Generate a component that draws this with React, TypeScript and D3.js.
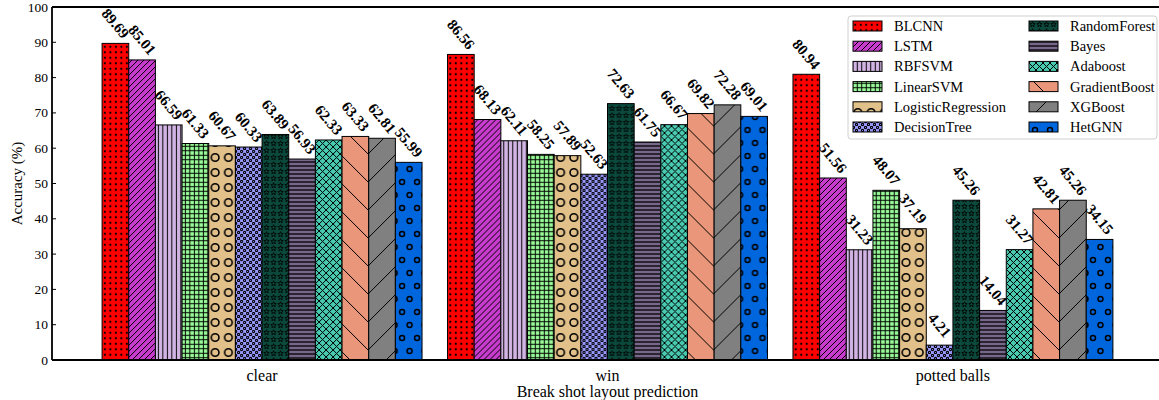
import { useRef, useEffect } from "react";
import * as d3 from "d3";

const groups = ["clear", "win", "potted balls"];
const models = [
  "BLCNN",
  "LSTM",
  "RBFSVM",
  "LinearSVM",
  "LogisticRegression",
  "DecisionTree",
  "RandomForest",
  "Bayes",
  "Adaboost",
  "GradientBoost",
  "XGBoost",
  "HetGNN",
];
const clearValues = [89.69, 85.01, 66.59, 61.33, 60.67, 60.33, 63.89, 56.93, 62.33, 63.33, 62.81, 55.99];
const winValues = [86.56, 68.13, 62.11, 58.25, 57.89, 52.63, 72.63, 61.75, 66.67, 69.82, 72.28, 69.01];
const pottedValues = [80.94, 51.56, 31.23, 48.07, 37.19, 4.21, 45.26, 14.04, 31.27, 42.81, 45.26, 34.15];
const yTicks = [0, 10, 20, 30, 40, 50, 60, 70, 80, 90, 100];

const colors = [
  "#ff0000",
  "#c83ccd",
  "#d3b5e5",
  "#98fb98",
  "#e2c08a",
  "#9999ff",
  "#0b4a3c",
  "#77688b",
  "#48c9b0",
  "#e9967a",
  "#808080",
  "#0066dd",
];
const hatches = ["dots", "diag", "vline", "grid", "bigO", "smallo", "star", "hline", "cross", "back", "fwd", "ring"];

const FONT = "'Liberation Serif', 'Times New Roman', serif";

function starPath(cx: number, cy: number, ro: number, ri: number) {
  const pts: string[] = [];
  for (let i = 0; i < 10; i++) {
    const r = i % 2 === 0 ? ro : ri;
    const a = -Math.PI / 2 + (i * Math.PI) / 5;
    pts.push(`${cx + r * Math.cos(a)},${cy + r * Math.sin(a)}`);
  }
  return "M" + pts.join("L") + "Z";
}

function addPattern(defs: any, id: string, color: string, kind: string) {
  const sizes: Record<string, [number, number]> = {
    dots: [5.5, 5.5],
    diag: [6, 6],
    vline: [4.5, 10],
    grid: [4.5, 4.5],
    bigO: [13.3, 15],
    smallo: [6, 6],
    star: [7, 7],
    hline: [10, 4],
    cross: [7, 7],
    back: [28, 28],
    fwd: [28, 28],
    ring: [15, 26],
  };
  const [w, h] = sizes[kind];
  const p = defs
    .append("pattern")
    .attr("id", id)
    .attr("patternUnits", "userSpaceOnUse")
    .attr("width", w)
    .attr("height", h);
  p.append("rect").attr("width", w).attr("height", h).attr("fill", color);
  const line = (x1: number, y1: number, x2: number, y2: number, sw = 1) =>
    p
      .append("line")
      .attr("x1", x1)
      .attr("y1", y1)
      .attr("x2", x2)
      .attr("y2", y2)
      .attr("stroke", "#000")
      .attr("stroke-width", sw);
  const ring = (cx: number, cy: number, r: number, sw: number) =>
    p
      .append("circle")
      .attr("cx", cx)
      .attr("cy", cy)
      .attr("r", r)
      .attr("fill", "none")
      .attr("stroke", "#000")
      .attr("stroke-width", sw);

  switch (kind) {
    case "dots":
      p.append("circle").attr("cx", w / 2).attr("cy", h / 2).attr("r", 1.1).attr("fill", "#000");
      break;
    case "diag":
      line(0, h, w, 0);
      line(-1, 1, 1, -1);
      line(w - 1, h + 1, w + 1, h - 1);
      break;
    case "vline":
      line(w / 2, 0, w / 2, h);
      break;
    case "grid":
      line(w / 2, 0, w / 2, h);
      line(0, h / 2, w, h / 2);
      break;
    case "bigO":
      ring(w / 2, h / 2, 3.8, 1.6);
      break;
    case "smallo":
      ring(1.5, 1.5, 1.1, 1.1);
      ring(4.5, 4.5, 1.1, 1.1);
      break;
    case "star":
      p.append("path")
        .attr("d", starPath(w / 2, h / 2, 2.8, 1.2))
        .attr("fill", "none")
        .attr("stroke", "#000")
        .attr("stroke-width", 0.9);
      break;
    case "hline":
      line(0, h / 2, w, h / 2, 1.3);
      break;
    case "cross":
      line(0, 0, w, h);
      line(0, h, w, 0);
      break;
    case "back":
      line(0, 0, w, h);
      line(-1, h - 1, 1, h + 1);
      line(w - 1, -1, w + 1, 1);
      break;
    case "fwd":
      line(0, h, w, 0);
      line(-1, 1, 1, -1);
      line(w - 1, h + 1, w + 1, h - 1);
      break;
    case "ring":
      ring(0, 0, 2.5, 1.5);
      ring(w, 0, 2.5, 1.5);
      ring(0, h, 2.5, 1.5);
      ring(w, h, 2.5, 1.5);
      ring(w / 2, h / 2, 2.5, 1.5);
      break;
  }
}

export default function App() {
  const svgRef = useRef<SVGSVGElement | null>(null);

  useEffect(() => {
    document.body.style.margin = "0";
    const svg = d3.select(svgRef.current);
    svg.selectAll("*").remove();

    const width = 1159;
    const height = 400;
    const margin = { left: 52, top: 7, bottom: 360, right: 1163 };
    const valuesByGroup = [clearValues, winValues, pottedValues];

    const defs = svg.append("defs");
    models.forEach((m, i) => addPattern(defs, `pat-${i}`, colors[i], hatches[i]));

    const x0 = d3
      .scaleBand()
      .domain(groups)
      .range([margin.left, margin.right])
      .paddingInner(0.0738)
      .paddingOuter(0.145);
    const x1 = d3.scaleBand().domain(models).range([0, x0.bandwidth()]).padding(0);
    const y = d3.scaleLinear().domain([0, 100]).range([margin.bottom, margin.top]);

    svg.attr("width", width).attr("height", height);

    // bars
    groups.forEach((g, gi) => {
      const gSel = svg.append("g").attr("transform", `translate(${x0(g)},0)`);
      models.forEach((m, i) => {
        const v = valuesByGroup[gi][i];
        gSel
          .append("rect")
          .attr("x", x1(m)!)
          .attr("y", y(v))
          .attr("width", x1.bandwidth())
          .attr("height", y(0) - y(v))
          .attr("fill", `url(#pat-${i})`)
          .attr("stroke", "#000")
          .attr("stroke-width", 1);
      });
      models.forEach((m, i) => {
        const v = valuesByGroup[gi][i];
        const cx = x1(m)! + x1.bandwidth() / 2;
        const cy = y(v) - 20;
        gSel
          .append("text")
          .attr("transform", `translate(${cx},${cy}) rotate(50)`)
          .attr("text-anchor", "middle")
          .attr("dominant-baseline", "central")
          .attr("font-family", FONT)
          .attr("font-weight", "bold")
          .attr("font-size", 15)
          .text(v.toFixed(2));
      });
    });

    // frame
    svg
      .append("path")
      .attr("d", `M${margin.left},${margin.top}H${width + 5}M${margin.left},${margin.bottom}H${width + 5}M${margin.left},${margin.top}V${margin.bottom}`)
      .attr("stroke", "#000")
      .attr("stroke-width", 1.8)
      .attr("fill", "none");

    // y axis ticks
    const yAxis = svg.append("g");
    yTicks.forEach((t) => {
      yAxis
        .append("line")
        .attr("x1", margin.left)
        .attr("x2", margin.left + 4)
        .attr("y1", y(t))
        .attr("y2", y(t))
        .attr("stroke", "#000")
        .attr("stroke-width", 1);
      yAxis
        .append("text")
        .attr("x", margin.left - 4)
        .attr("y", y(t))
        .attr("text-anchor", "end")
        .attr("dominant-baseline", "central")
        .attr("font-family", FONT)
        .attr("font-size", 13.5)
        .text(t);
    });

    svg
      .append("text")
      .attr("transform", `translate(17,${(margin.top + margin.bottom) / 2}) rotate(-90)`)
      .attr("text-anchor", "middle")
      .attr("dominant-baseline", "central")
      .attr("font-family", FONT)
      .attr("font-size", 15)
      .text("Accuracy (%)");

    // x group labels
    groups.forEach((g) => {
      svg
        .append("text")
        .attr("x", x0(g)! + x0.bandwidth() / 2)
        .attr("y", 381)
        .attr("text-anchor", "middle")
        .attr("font-family", FONT)
        .attr("font-size", 16)
        .text(g);
    });
    svg
      .append("text")
      .attr("x", (x0(groups[0])! + x0(groups[2])! + x0.bandwidth()) / 2)
      .attr("y", 397)
      .attr("text-anchor", "middle")
      .attr("font-family", FONT)
      .attr("font-size", 16)
      .text("Break shot layout prediction");

    // legend
    const lg = svg.append("g");
    lg.append("rect")
      .attr("x", 848)
      .attr("y", 16)
      .attr("width", 309)
      .attr("height", 123)
      .attr("rx", 3)
      .attr("fill", "#fff")
      .attr("fill-opacity", 0.9)
      .attr("stroke", "#d0d0d0")
      .attr("stroke-width", 1);
    models.forEach((m, i) => {
      const col = Math.floor(i / 6);
      const row = i % 6;
      const px = col === 0 ? 853 : 1029;
      const py = 26 + row * 20.2;
      lg.append("rect")
        .attr("x", px)
        .attr("y", py - 5)
        .attr("width", 29)
        .attr("height", 10)
        .attr("fill", `url(#pat-${i})`)
        .attr("stroke", "#000")
        .attr("stroke-width", 1);
      lg.append("text")
        .attr("x", col === 0 ? 894 : 1070)
        .attr("y", py)
        .attr("dominant-baseline", "central")
        .attr("font-family", FONT)
        .attr("font-size", 14.5)
        .text(m);
    });
  }, []);

  return (
    <div style={{ position: "absolute", top: 0, left: 0, width: 1159, height: 400 }}>
      <svg ref={svgRef} />
    </div>
  );
}
